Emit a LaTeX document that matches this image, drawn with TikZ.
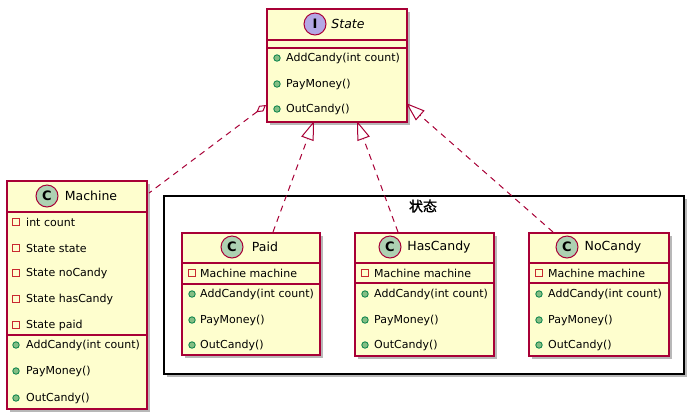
\documentclass[tikz,border=0pt]{standalone}
\usepackage{fontspec}
\setmainfont{DejaVu Sans}
\newfontfamily\cjk{Noto Sans CJK SC}[AutoFakeBold=1]
\usetikzlibrary{arrows.meta,shadows}
\definecolor{umlfill}{HTML}{FEFECE}
\definecolor{umlborder}{HTML}{A80036}
\definecolor{cicon}{HTML}{ADD1B2}
\definecolor{iicon}{HTML}{B4A7E5}
\definecolor{privred}{HTML}{C82930}
\definecolor{pubfill}{HTML}{84BE84}
\definecolor{publine}{HTML}{038048}
\tikzset{
  umlshadow/.style={drop shadow={shadow xshift=3.5bp,shadow yshift=-3.5bp,fill=black,opacity=0.28}},
  classbox/.style={draw=umlborder,fill=umlfill,line width=1.5bp,anchor=north west,inner sep=0pt,umlshadow},
  pkgbox/.style={draw=black,fill=white,line width=1.5bp,anchor=north west,inner sep=0pt,umlshadow},
  sepline/.style={draw=umlborder,line width=1.5bp},
  member/.style={anchor=west,inner sep=0pt,font=\fontsize{11bp}{13bp}\selectfont},
  cname/.style={inner sep=0pt,font=\fontsize{12.5bp}{15bp}\selectfont},
  cicn/.style={circle,draw=umlborder,fill=cicon,line width=1bp,minimum size=22bp,inner sep=0pt,font=\fontsize{13bp}{15bp}\selectfont\bfseries},
  iicn/.style={circle,draw=umlborder,fill=iicon,line width=1bp,minimum size=22bp,inner sep=0pt,font=\fontsize{13bp}{15bp}\selectfont\bfseries},
  privicn/.style={rectangle,draw=privred,line width=1bp,minimum size=6.5bp,inner sep=0pt,fill=none},
  pubicn/.style={circle,draw=publine,fill=pubfill,line width=0.8bp,minimum size=6.5bp,inner sep=0pt},
  dep/.style={draw=umlborder,line width=1bp,dash pattern=on 6bp off 5bp},
  realize/.style={dep,-{Triangle[open,length=19bp,width=13bp,line width=1bp]}},
  aggreg/.style={dep,{Diamond[open,length=12bp,width=7bp,line width=1bp]}-},
}
\begin{document}
\begin{tikzpicture}[x=1bp,y=-1bp]
\useasboundingbox (0,0) rectangle (693,417);

% package
\node[pkgbox,minimum width=520bp,minimum height=178bp] (pkg) at (163,195) {};
\node[inner sep=0pt,font=\cjk\bfseries\fontsize{14bp}{16bp}\selectfont] (pkgtitle) at (423,206) {状态};

% State interface
\node[classbox,minimum width=140bp,minimum height=113bp] (state) at (266,8) {};
\draw[sepline] (266,40) -- (406,40);
\draw[sepline] (266,48) -- (406,48);
\node[iicn] (stateicn) at (315,24) {I};
\node[cname,font=\fontsize{12.5bp}{15bp}\selectfont\itshape] (statename) at (348,24) {State};
\node[pubicn] (sm1i) at (277,58) {};
\node[member] (sm1) at (286,58) {AddCandy(int count)};
\node[pubicn] (sm2i) at (277,84) {};
\node[member] (sm2) at (286,84) {PayMoney()};
\node[pubicn] (sm3i) at (277,109) {};
\node[member] (sm3) at (286,109) {OutCandy()};

% Machine
\node[classbox,minimum width=140bp,minimum height=228bp] (machine) at (6,180) {};
\draw[sepline] (6,212) -- (146,212);
\draw[sepline] (6,335) -- (146,335);
\node[cicn] (machineicn) at (47,196) {C};
\node[cname] (machinename) at (91,196) {Machine};
\node[privicn] (ma1i) at (16,222) {};
\node[member] (ma1) at (26,222) {int count};
\node[privicn] (ma2i) at (16,248) {};
\node[member] (ma2) at (26,248) {State state};
\node[privicn] (ma3i) at (16,273) {};
\node[member] (ma3) at (26,273) {State noCandy};
\node[privicn] (ma4i) at (16,299) {};
\node[member] (ma4) at (26,299) {State hasCandy};
\node[privicn] (ma5i) at (16,325) {};
\node[member] (ma5) at (26,325) {State paid};
\node[pubicn] (mm1i) at (16,345) {};
\node[member] (mm1) at (26,345) {AddCandy(int count)};
\node[pubicn] (mm2i) at (16,371) {};
\node[member] (mm2) at (26,371) {PayMoney()};
\node[pubicn] (mm3i) at (16,398) {};
\node[member] (mm3) at (26,398) {OutCandy()};

% Paid
\node[classbox,minimum width=138bp,minimum height=122bp] (paid) at (181,232) {};
\draw[sepline] (181,263) -- (319,263);
\draw[sepline] (181,284) -- (319,284);
\node[cicn] (paidicn) at (232,247) {C};
\node[cname] (paidname) at (265,247) {Paid};
\node[privicn] (pa1i) at (192,273) {};
\node[member] (pa1) at (200,273) {Machine machine};
\node[pubicn] (pm1i) at (192,294) {};
\node[member] (pm1) at (200,294) {AddCandy(int count)};
\node[pubicn] (pm2i) at (192,320) {};
\node[member] (pm2) at (200,320) {PayMoney()};
\node[pubicn] (pm3i) at (192,345) {};
\node[member] (pm3) at (200,345) {OutCandy()};

% HasCandy
\node[classbox,minimum width=139bp,minimum height=123bp] (has) at (354,232) {};
\draw[sepline] (354,263) -- (493,263);
\draw[sepline] (354,283) -- (493,283);
\node[cicn] (hasicn) at (390,247) {C};
\node[cname] (hasname) at (439,247) {HasCandy};
\node[privicn] (ha1i) at (365,273) {};
\node[member] (ha1) at (374,273) {Machine machine};
\node[pubicn] (hm1i) at (365,294) {};
\node[member] (hm1) at (374,294) {AddCandy(int count)};
\node[pubicn] (hm2i) at (365,320) {};
\node[member] (hm2) at (374,320) {PayMoney()};
\node[pubicn] (hm3i) at (365,345) {};
\node[member] (hm3) at (374,345) {OutCandy()};

% NoCandy
\node[classbox,minimum width=140bp,minimum height=123bp] (no) at (528,232) {};
\draw[sepline] (528,263) -- (668,263);
\draw[sepline] (528,283) -- (668,283);
\node[cicn] (noicn) at (567,247) {C};
\node[cname] (noname) at (613,247) {NoCandy};
\node[privicn] (na1i) at (539,273) {};
\node[member] (na1) at (548,273) {Machine machine};
\node[pubicn] (nm1i) at (539,294) {};
\node[member] (nm1) at (548,294) {AddCandy(int count)};
\node[pubicn] (nm2i) at (539,320) {};
\node[member] (nm2) at (548,320) {PayMoney()};
\node[pubicn] (nm3i) at (539,345) {};
\node[member] (nm3) at (548,345) {OutCandy()};

% connector end points
\coordinate (aggS) at (266,105);
\coordinate (aggM) at (149,193);
\coordinate (paidS) at (314,121);
\coordinate (paidT) at (273,232);
\coordinate (hasS) at (357,121);
\coordinate (hasT) at (398,232);
\coordinate (noS) at (406,103);
\coordinate (noT) at (553,232);

\draw[aggreg] (aggS) -- (aggM);
\draw[realize] (paidT) -- (paidS);
\draw[realize] (hasT) -- (hasS);
\draw[realize] (noT) -- (noS);
\end{tikzpicture}
\end{document}
